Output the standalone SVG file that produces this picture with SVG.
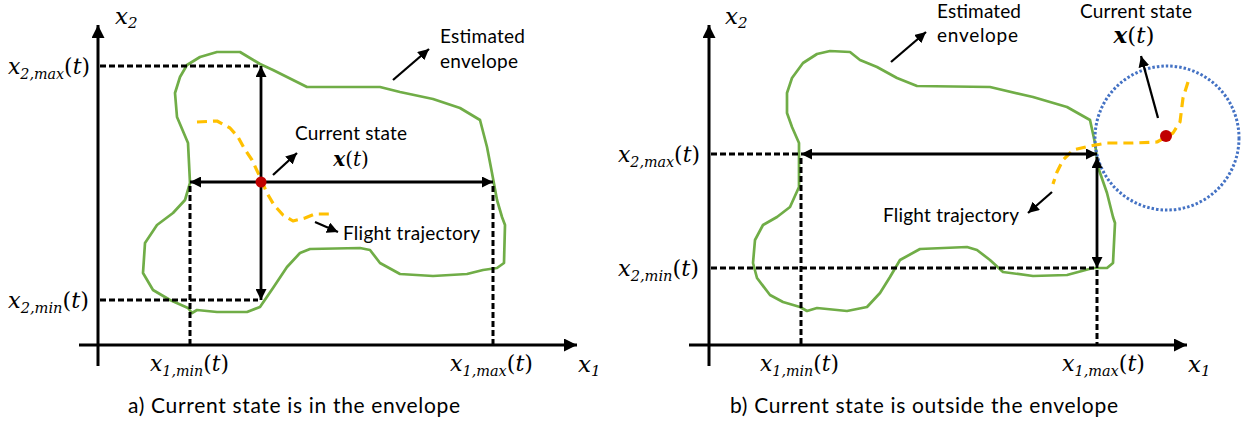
<svg xmlns="http://www.w3.org/2000/svg" width="1251" height="425" viewBox="0 0 1251 425">
<style>
.ax{stroke:#000;stroke-width:3;fill:none}
.sol{stroke:#000;stroke-width:2.8;fill:none}
.dash{stroke:#000;stroke-width:3;fill:none;stroke-dasharray:6 3}
.ptr{stroke:#000;stroke-width:2.3;fill:none}
.env{stroke:#70AD47;stroke-width:2.7;fill:none;stroke-linejoin:round}
.traj{stroke:#FFC000;stroke-width:3.2;fill:none;stroke-dasharray:10 6;stroke-linejoin:round}
.circ{stroke:#4472C4;stroke-width:3;fill:none;stroke-dasharray:2.5 2}
.dot{fill:#C00000}
.t{font-family:Lato,"Open Sans",sans-serif;font-size:19px;fill:#000}
.cap{font-family:Lato,"Open Sans",sans-serif;font-size:21px;fill:#000}
.m{font-family:"DejaVu Serif","Liberation Serif",serif;font-style:italic;font-size:23px;fill:#000}
.xt{font-size:20px}
.sub{font-size:15px}
.up{font-style:normal}
.b{font-weight:bold}
</style>
<defs>
<marker id="ah" viewBox="0 0 10 10" markerWidth="11" markerHeight="11" refX="10" refY="5" orient="auto-start-reverse" markerUnits="userSpaceOnUse"><path d="M0,0 L10,5 L0,10 z" fill="#000"/></marker>
<marker id="ahs" viewBox="0 0 10 10" markerWidth="11" markerHeight="11" refX="10" refY="5" orient="auto-start-reverse" markerUnits="userSpaceOnUse"><path d="M0,0 L10,5 L0,10 z" fill="#000"/></marker>
<marker id="aax" viewBox="0 0 10 10" markerWidth="13" markerHeight="13" refX="10" refY="5" orient="auto" markerUnits="userSpaceOnUse"><path d="M0,0 L10,5 L0,10 z" fill="#000"/></marker>
</defs>

<g id="panel-a">
<g id="a-envelope"><polygon class="env" points="187,65 200,57 217,52 240,52 260,64 273,70 293,80 307,87 380,87 400,92 433,99 460,108 480,120 487,147 492,173 497,200 502,217 505,225 504,263 497,268 483,270 467,274 433,276 400,274 380,263 370,250 360,248 310,249 300,253 287,267 273,288 260,307 247,312 217,312 197,310 192,313 188,308 170,300 153,290 143,273 145,243 157,225 173,213 185,200 190,183 188,143 177,117 175,93 180,77"/></g>
<g id="a-trajectory"><polyline class="traj" points="197,122 217,121 230,128 238,137 244,148 252,160 260,177 267,193 274,205 283,215 293,221 305,218 315,214 333,214"/></g>
<g id="a-connectors">
<line class="ax" x1="98" y1="366" x2="98" y2="25" marker-end="url(#aax)"/>
<line class="ax" x1="79" y1="345" x2="577" y2="345" marker-end="url(#aax)"/>
<line class="dash" x1="100" y1="66" x2="258" y2="66"/>
<line class="dash" x1="100" y1="300" x2="258" y2="300"/>
<line class="dash" x1="190" y1="186" x2="190" y2="344"/>
<line class="dash" x1="493" y1="186" x2="493" y2="344"/>
<line class="sol" x1="261" y1="66" x2="261" y2="300" marker-start="url(#ah)" marker-end="url(#ah)"/>
<line class="sol" x1="190" y1="182" x2="493" y2="182" marker-start="url(#ah)" marker-end="url(#ah)"/>
<line class="ptr" x1="273" y1="175" x2="297" y2="153" marker-end="url(#ahs)"/>
<line class="ptr" x1="393" y1="80" x2="429" y2="49" marker-end="url(#ahs)"/>
<line class="ptr" x1="315" y1="222" x2="338" y2="232" marker-end="url(#ahs)"/>
</g>
<g id="a-state"><circle class="dot" cx="261" cy="182" r="5.5"/></g>
<g id="a-labels">
<text class="m" x="115" y="24">x<tspan class="sub" dy="4">2</tspan></text>
<text class="m" x="8" y="74" textLength="82" lengthAdjust="spacingAndGlyphs">x<tspan class="sub" dy="5">2,max</tspan><tspan class="up" dy="-5">(</tspan>t<tspan class="up">)</tspan></text>
<text class="m" x="8" y="308" textLength="81" lengthAdjust="spacingAndGlyphs">x<tspan class="sub" dy="5">2,min</tspan><tspan class="up" dy="-5">(</tspan>t<tspan class="up">)</tspan></text>
<text class="m" x="150" y="371" textLength="79" lengthAdjust="spacingAndGlyphs">x<tspan class="sub" dy="5">1,min</tspan><tspan class="up" dy="-5">(</tspan>t<tspan class="up">)</tspan></text>
<text class="m" x="450" y="371" textLength="83" lengthAdjust="spacingAndGlyphs">x<tspan class="sub" dy="5">1,max</tspan><tspan class="up" dy="-5">(</tspan>t<tspan class="up">)</tspan></text>
<text class="m" x="578" y="372">x<tspan class="sub" dy="4">1</tspan></text>
<text class="t" x="295" y="140" textLength="112">Current state</text>
<text class="m xt b" x="351" y="166" text-anchor="middle">x<tspan class="up" font-weight="normal">(</tspan><tspan font-weight="normal">t</tspan><tspan class="up" font-weight="normal">)</tspan></text>
<text class="t" x="440" y="43" textLength="85">Estimated</text>
<text class="t" x="440" y="68" textLength="78">envelope</text>
<text class="t" x="343" y="240" textLength="137">Flight trajectory</text>
<text class="cap" x="128" y="413" textLength="332">a) Current state is in the envelope</text>
</g>
</g>

<g id="panel-b">
<g id="b-envelope"><polygon class="env" points="792,78 803,63 817,54 830,51 850,52 860,60 877,67 897,78 917,86 990,87 1033,97 1067,107 1090,120 1095,143 1098,167 1107,193 1113,217 1115,223 1113,263 1107,268 1093,268 1067,275 1033,276 1003,272 990,260 977,250 967,247 920,249 900,260 890,277 880,293 867,307 847,311 817,308 807,311 800,307 783,302 770,295 757,278 753,263 755,240 763,225 777,217 790,207 799,187 799,157 799,143 792,127 787,113 787,93"/></g>
<g id="b-region"><circle class="circ" cx="1167" cy="138" r="72"/></g>
<g id="b-trajectory"><polyline class="traj" points="1188,82 1183,98 1180,122 1173,133 1166,137 1157,142 1133,143 1107,143 1090,146 1073,150 1063,160 1057,172 1053,184"/></g>
<g id="b-connectors">
<line class="ax" x1="709" y1="366" x2="709" y2="25" marker-end="url(#aax)"/>
<line class="ax" x1="689" y1="345" x2="1187" y2="345" marker-end="url(#aax)"/>
<line class="dash" x1="711" y1="154" x2="798" y2="154"/>
<line class="dash" x1="711" y1="268" x2="1094" y2="268"/>
<line class="dash" x1="801" y1="158" x2="801" y2="344"/>
<line class="dash" x1="1097" y1="270" x2="1097" y2="344"/>
<line class="sol" x1="801" y1="154" x2="1097" y2="154" marker-start="url(#ah)" marker-end="url(#ah)"/>
<line class="sol" x1="1097" y1="157" x2="1097" y2="268" marker-start="url(#ah)" marker-end="url(#ah)"/>
<line class="ptr" x1="891" y1="62" x2="926" y2="32" marker-end="url(#ahs)"/>
<line class="ptr" x1="1158" y1="118" x2="1141" y2="56" marker-end="url(#ahs)"/>
<line class="ptr" x1="1052" y1="192" x2="1028" y2="213" marker-end="url(#ahs)"/>
</g>
<g id="b-state"><circle class="dot" cx="1166" cy="136" r="6"/></g>
<g id="b-labels">
<text class="m" x="725" y="24">x<tspan class="sub" dy="4">2</tspan></text>
<text class="m" x="618" y="162" textLength="82" lengthAdjust="spacingAndGlyphs">x<tspan class="sub" dy="5">2,max</tspan><tspan class="up" dy="-5">(</tspan>t<tspan class="up">)</tspan></text>
<text class="m" x="618" y="276" textLength="81" lengthAdjust="spacingAndGlyphs">x<tspan class="sub" dy="5">2,min</tspan><tspan class="up" dy="-5">(</tspan>t<tspan class="up">)</tspan></text>
<text class="m" x="760" y="371" textLength="79" lengthAdjust="spacingAndGlyphs">x<tspan class="sub" dy="5">1,min</tspan><tspan class="up" dy="-5">(</tspan>t<tspan class="up">)</tspan></text>
<text class="m" x="1062" y="371" textLength="83" lengthAdjust="spacingAndGlyphs">x<tspan class="sub" dy="5">1,max</tspan><tspan class="up" dy="-5">(</tspan>t<tspan class="up">)</tspan></text>
<text class="m" x="1188" y="372">x<tspan class="sub" dy="4">1</tspan></text>
<text class="t" x="1080" y="18" font-size="17" textLength="112">Current state</text>
<text class="m b" x="1134" y="43" font-size="19" text-anchor="middle">x<tspan class="up" font-weight="normal">(</tspan><tspan font-weight="normal">t</tspan><tspan class="up" font-weight="normal">)</tspan></text>
<text class="t" x="937" y="18" textLength="84">Estimated</text>
<text class="t" x="937" y="42" textLength="81">envelope</text>
<text class="t" x="883" y="222" textLength="136">Flight trajectory</text>
<text class="cap" x="730" y="413" textLength="388">b) Current state is outside the envelope</text>
</g>
</g>
</svg>
